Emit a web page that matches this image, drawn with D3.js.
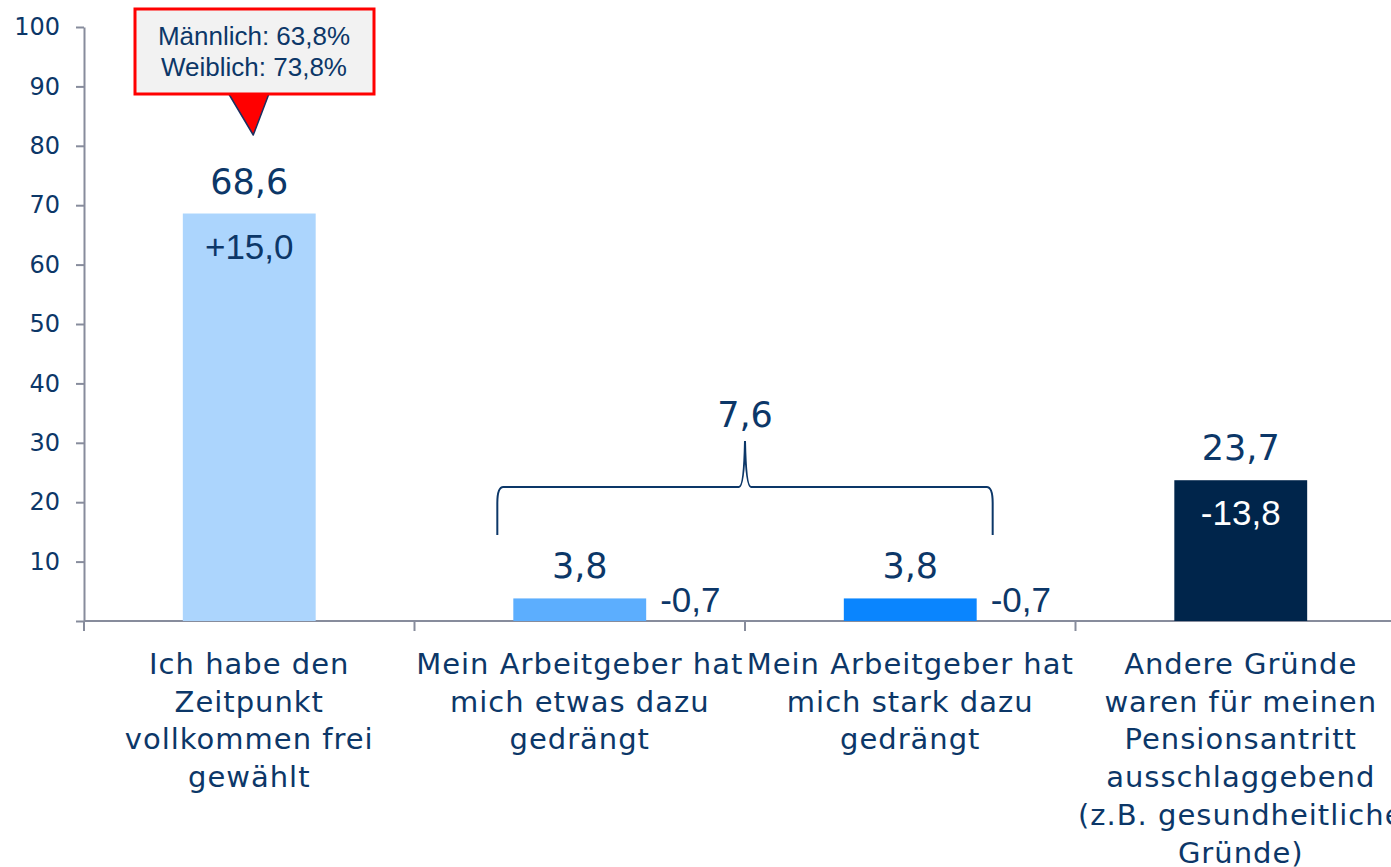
<!DOCTYPE html>
<html>
<head>
<meta charset="utf-8">
<script src="https://cdn.jsdelivr.net/npm/d3@7"></script>
<style>
  body { margin: 0; background: #ffffff; }
  svg { display: block; }
</style>
</head>
<body>
<script>
// Pensionsantritt chart

var categories = ["frei", "etwas", "stark", "andere"];
var categoryLines = [
    ["Ich habe den", "Zeitpunkt", "vollkommen frei", "gewählt"],
    ["Mein Arbeitgeber hat", "mich etwas dazu", "gedrängt"],
    ["Mein Arbeitgeber hat", "mich stark dazu", "gedrängt"],
    ["Andere Gründe", "waren für meinen", "Pensionsantritt", "ausschlaggebend", "(z.B. gesundheitliche", "Gründe)"]
];
var values = [68.6, 3.8, 3.8, 23.7];
var valueLabels = ["68,6", "3,8", "3,8", "23,7"];
var changeLabels = ["+15,0", "-0,7", "-0,7", "-13,8"];
var barColors = ["#acd5fd", "#5caefe", "#0a85fe", "#00254b"];
var yTicks = [0, 10, 20, 30, 40, 50, 60, 70, 80, 90, 100];
var groupLabel = "7,6";
var noteLines = ["Männlich: 63,8%", "Weiblich: 73,8%"];

function drawChart()
{
    var width = 1391,
        height = 867;

    var navy = "#0c3768",
        axisGray = "#878c9c";

    var svg = d3.select("body").append("svg")
        .attr("width", width)
        .attr("height", height);

    var x = d3.scaleBand()
        .domain(categories)
        .range([84, 84 + 4 * 330.5])
        .padding(0);

    var y = d3.scaleLinear()
        .domain([0, 100])
        .range([621, 27]);

    var barW = x.bandwidth() * 0.402;

    // y axis
    var yAxis = svg.append("g")
        .attr("transform", "translate(84,0)")
        .call(d3.axisLeft(y)
            .tickValues(yTicks)
            .tickSize(8)
            .tickSizeOuter(0)
            .tickPadding(16)
            .tickFormat(function(d) { return d === 0 ? "" : d; }));
    yAxis.select(".domain").attr("stroke", axisGray).attr("stroke-width", 2);
    yAxis.selectAll(".tick line").attr("stroke", axisGray).attr("stroke-width", 2);
    yAxis.selectAll(".tick text")
        .attr("fill", navy)
        .style("font-family", "'DejaVu Sans', Verdana, sans-serif")
        .style("font-size", "24px");

    // x axis baseline + ticks at band edges
    svg.append("line")
        .attr("x1", 84).attr("x2", width)
        .attr("y1", y(0)).attr("y2", y(0))
        .attr("stroke", axisGray).attr("stroke-width", 2);

    var edges = categories.map(function(c) { return x(c); });
    svg.selectAll(".xtick").data(edges).enter().append("line")
        .attr("class", "xtick")
        .attr("x1", function(d) { return d; })
        .attr("x2", function(d) { return d; })
        .attr("y1", y(0))
        .attr("y2", y(0) + 10)
        .attr("stroke", axisGray).attr("stroke-width", 2);

    // bars
    svg.selectAll(".bar").data(values).enter().append("rect")
        .attr("class", "bar")
        .attr("x", function(d, i) { return x(categories[i]) + (x.bandwidth() - barW) / 2; })
        .attr("y", function(d) { return y(d); })
        .attr("width", barW)
        .attr("height", function(d) { return y(0) - y(d); })
        .attr("fill", function(d, i) { return barColors[i]; });

    // value labels above bars
    svg.selectAll(".vlabel").data(values).enter().append("text")
        .attr("class", "vlabel")
        .attr("x", function(d, i) { return x(categories[i]) + x.bandwidth() / 2; })
        .attr("y", function(d) { return y(d) - 20; })
        .attr("text-anchor", "middle")
        .attr("fill", navy)
        .style("font-family", "'DejaVu Sans', Verdana, sans-serif")
        .style("font-size", "35px")
        .text(function(d, i) { return valueLabels[i]; });

    // change labels (inside big bars, right of small ones)
    svg.selectAll(".clabel").data(values).enter().append("text")
        .attr("class", "clabel")
        .attr("x", function(d, i) {
            var cx = x(categories[i]) + x.bandwidth() / 2;
            return d > 10 ? cx : cx + barW / 2 + 14;
        })
        .attr("y", function(d) { return d > 10 ? y(d) + 45 : y(0) - 9; })
        .attr("text-anchor", function(d) { return d > 10 ? "middle" : "start"; })
        .attr("fill", function(d, i) { return i === 3 ? "#ffffff" : navy; })
        .style("font-family", "'Liberation Sans', Arial, sans-serif")
        .style("font-size", "35px")
        .text(function(d, i) { return changeLabels[i]; });

    // category labels
    var cat = svg.selectAll(".clab").data(categories).enter().append("text")
        .attr("class", "clab")
        .attr("text-anchor", "middle")
        .attr("fill", navy)
        .style("font-family", "'DejaVu Sans', Verdana, sans-serif")
        .style("font-size", "29px")
        .style("letter-spacing", "1px");
    cat.each(function(c, i) {
        var t = d3.select(this);
        categoryLines[i].forEach(function(line, k) {
            t.append("tspan")
                .attr("x", x(c) + x.bandwidth() / 2)
                .attr("y", 674 + k * 37.7)
                .text(line);
        });
    });

    // brace over the two employer bars
    var bl = x(categories[1]) + (x.bandwidth() - barW) / 2 - 16,
        br = x(categories[2]) + (x.bandwidth() + barW) / 2 + 16,
        bm = (bl + br) / 2,
        yEnd = 535, yBar = 487, yTip = 441;
    var brace = "M" + bl + "," + yEnd +
        " L" + bl + "," + (yBar + 16) +
        " Q" + bl + "," + yBar + " " + (bl + 6) + "," + yBar +
        " L" + (bm - 6) + "," + yBar +
        " Q" + (bm - 1) + "," + yBar + " " + bm + "," + yTip +
        " Q" + (bm + 1) + "," + yBar + " " + (bm + 6) + "," + yBar +
        " L" + (br - 6) + "," + yBar +
        " Q" + br + "," + yBar + " " + br + "," + (yBar + 16) +
        " L" + br + "," + yEnd;
    svg.append("path")
        .attr("d", brace)
        .attr("fill", "none")
        .attr("stroke", navy)
        .attr("stroke-width", 2);

    svg.append("text")
        .attr("x", bm)
        .attr("y", 427)
        .attr("text-anchor", "middle")
        .attr("fill", navy)
        .style("font-family", "'DejaVu Sans', Verdana, sans-serif")
        .style("font-size", "35px")
        .text(groupLabel);

    // callout above first bar
    var cx0 = x(categories[0]) + x.bandwidth() / 2;
    svg.append("path")
        .attr("d", "M" + (cx0 - 21) + ",93 L" + (cx0 + 20) + ",93 L" + (cx0 + 4) + ",135 Z")
        .attr("fill", "#ff0000")
        .attr("stroke", "#1a3060")
        .attr("stroke-width", 1.5)
        .attr("stroke-linejoin", "round");
    svg.append("rect")
        .attr("x", 135)
        .attr("y", 9)
        .attr("width", 239)
        .attr("height", 85)
        .attr("fill", "#f2f2f2")
        .attr("stroke", "#ff0000")
        .attr("stroke-width", 3);
    svg.selectAll(".note").data(noteLines).enter().append("text")
        .attr("class", "note")
        .attr("x", 254)
        .attr("y", function(d, i) { return 45 + i * 31; })
        .attr("text-anchor", "middle")
        .attr("fill", navy)
        .style("font-family", "'Liberation Sans', Arial, sans-serif")
        .style("font-size", "26px")
        .text(function(d) { return d; });
}

drawChart();
</script>
</body>
</html>
